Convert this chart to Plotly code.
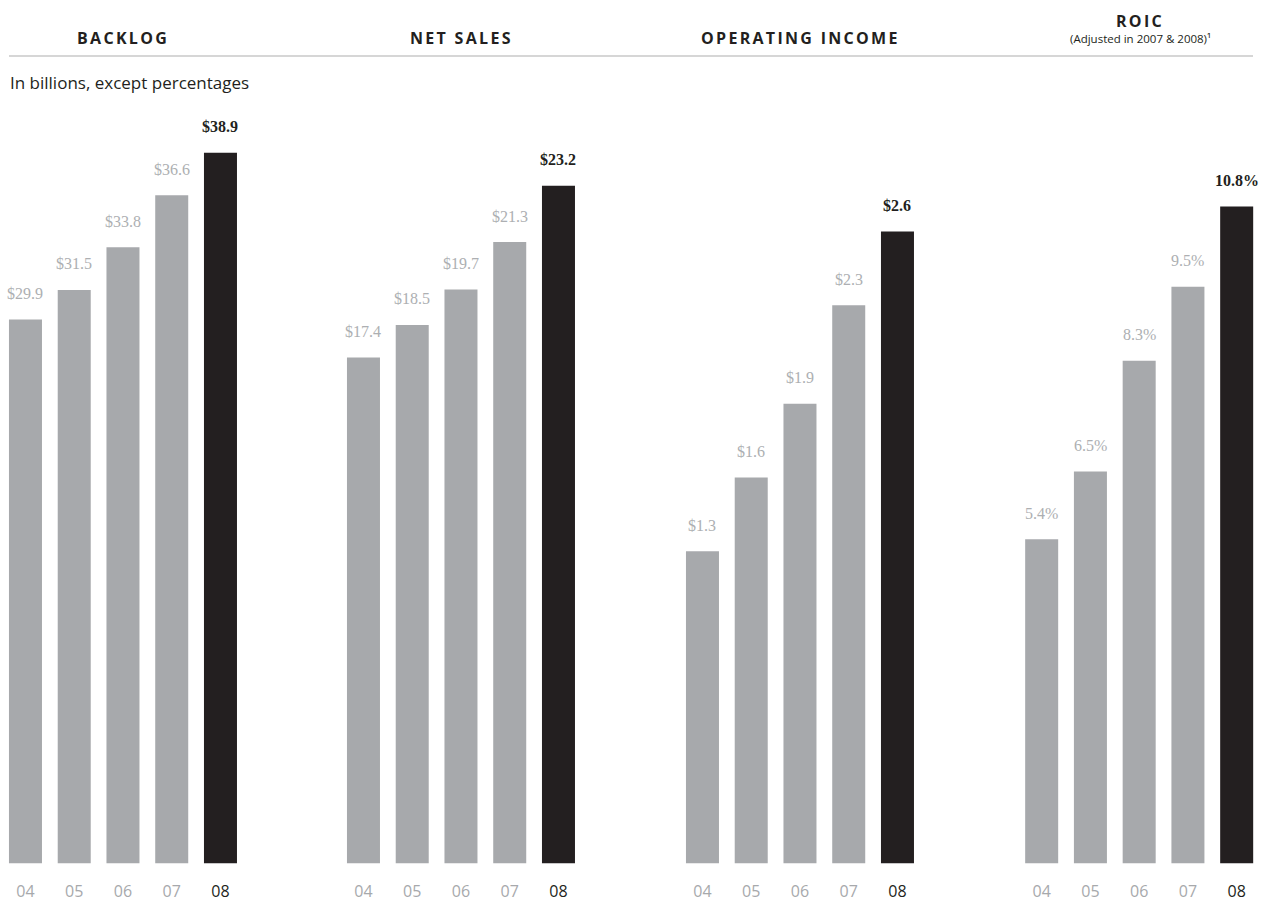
import plotly.graph_objects as go

# ---------------- data ----------------
years = ["04", "05", "06", "07", "08"]
panel_titles = ["BACKLOG", "NET SALES", "OPERATING INCOME", "ROIC"]
roic_note = "(Adjusted in 2007 & 2008)¹"
subtitle = "In billions, except percentages"

backlog = [29.9, 31.5, 33.8, 36.6, 38.9]
net_sales = [17.4, 18.5, 19.7, 21.3, 23.2]
operating_income = [1.3, 1.6, 1.9, 2.3, 2.6]
roic = [5.4, 6.5, 8.3, 9.5, 10.8]

backlog_labels = ["$29.9", "$31.5", "$33.8", "$36.6", "$38.9"]
net_sales_labels = ["$17.4", "$18.5", "$19.7", "$21.3", "$23.2"]
operating_income_labels = ["$1.3", "$1.6", "$1.9", "$2.3", "$2.6"]
roic_labels = ["5.4%", "6.5%", "8.3%", "9.5%", "10.8%"]

series = [backlog, net_sales, operating_income, roic]
labels = [backlog_labels, net_sales_labels, operating_income_labels, roic_labels]

# ---------------- style / layout ----------------
W, H = 1261, 902
GRAY = "#a7a9ac"
BLACK = "#231f20"
LABEL_GRAY = "#adafb2"
SANS = "Open Sans, Noto Sans, sans-serif"
SERIF = "Liberation Serif, Times New Roman, serif"

panel_starts_px = [1.1, 339.1, 678.1, 1017.3]
panel_width_px = 243.75
plot_top_px, plot_bottom_px = 100, 869
zero_px = [880, 879, 877, 878]
px_per_unit = [18.67, 29.83, 247.7, 62.04]
header_x_px = [123, 461.5, 800, 1140]

fig = go.Figure()
annotations = []
pos = list(range(len(years)))

for i in range(4):
    ax = "" if i == 0 else str(i + 1)
    xa, ya = "x" + ax, "y" + ax
    colors = [GRAY] * 4 + [BLACK]
    fig.add_trace(go.Bar(
        x=pos, y=series[i], marker=dict(color=colors, line=dict(width=0)),
        xaxis=xa, yaxis=ya, showlegend=False, hoverinfo="skip",
    ))
    x0 = panel_starts_px[i] / W
    x1 = min(1.0, (panel_starts_px[i] + panel_width_px) / W)
    xr_hi = 4.5 - ((panel_starts_px[i] + panel_width_px) / W - x1) * W / (panel_width_px / 5)
    s = px_per_unit[i]
    lo = (zero_px[i] - plot_bottom_px) / s
    hi = (zero_px[i] - plot_top_px) / s
    ticktext = years[:4] + [f'<span style="color:{BLACK}">{years[4]}</span>']
    fig.update_layout(**{
        "xaxis" + ax: dict(
            domain=[x0, x1], range=[-0.5, xr_hi], showgrid=False, zeroline=False,
            showline=False, ticks="outside", ticklen=14, tickcolor="rgba(0,0,0,0)",
            tickmode="array", tickvals=pos, ticktext=ticktext,
            tickfont=dict(family=SANS, size=16, color=GRAY),
            anchor=ya, fixedrange=True,
        ),
        "yaxis" + ax: dict(
            domain=[(H - plot_bottom_px) / H, (H - plot_top_px) / H],
            range=[lo, hi], visible=False, anchor=xa, fixedrange=True,
        ),
    })
    for j in pos:
        last = j == 4
        annotations.append(dict(
            x=j, y=series[i][j], xref=xa, yref=ya,
            text=f"<b>{labels[i][j]}</b>" if last else labels[i][j],
            showarrow=False, yanchor="middle", xanchor="center", yshift=26,
            font=dict(family=SERIF, size=16, color=BLACK if last else LABEL_GRAY),
        ))

# headers
header_y_px = [38, 38, 38, 21]
for i in range(4):
    annotations.append(dict(
        x=header_x_px[i] / W, y=1 - header_y_px[i] / H, xref="paper", yref="paper",
        text=f'<span style="letter-spacing:2.3px"><b>{panel_titles[i]}</b></span>',
        showarrow=False, xanchor="center", yanchor="middle",
        font=dict(family=SANS, size=16, color=BLACK),
    ))
annotations.append(dict(
    x=header_x_px[3] / W, y=1 - 39 / H, xref="paper", yref="paper",
    text=roic_note, showarrow=False, xanchor="center", yanchor="middle",
    font=dict(family=SANS, size=11.5, color=BLACK),
))
annotations.append(dict(
    x=8 / W, y=1 - 83 / H, xref="paper", yref="paper", text=subtitle,
    showarrow=False, xanchor="left", yanchor="middle",
    font=dict(family=SANS, size=17, color=BLACK),
))

fig.update_layout(
    width=W, height=H, margin=dict(l=0, r=0, t=0, b=0),
    paper_bgcolor="white", plot_bgcolor="white",
    bargap=0.323, annotations=annotations,
    shapes=[dict(type="line", xref="paper", yref="paper",
                 x0=9 / W, x1=1253 / W, y0=1 - 56.5 / H, y1=1 - 56.5 / H,
                 line=dict(color="#c8c8c8", width=1.5))],
)

fig.write_html("out.html")
